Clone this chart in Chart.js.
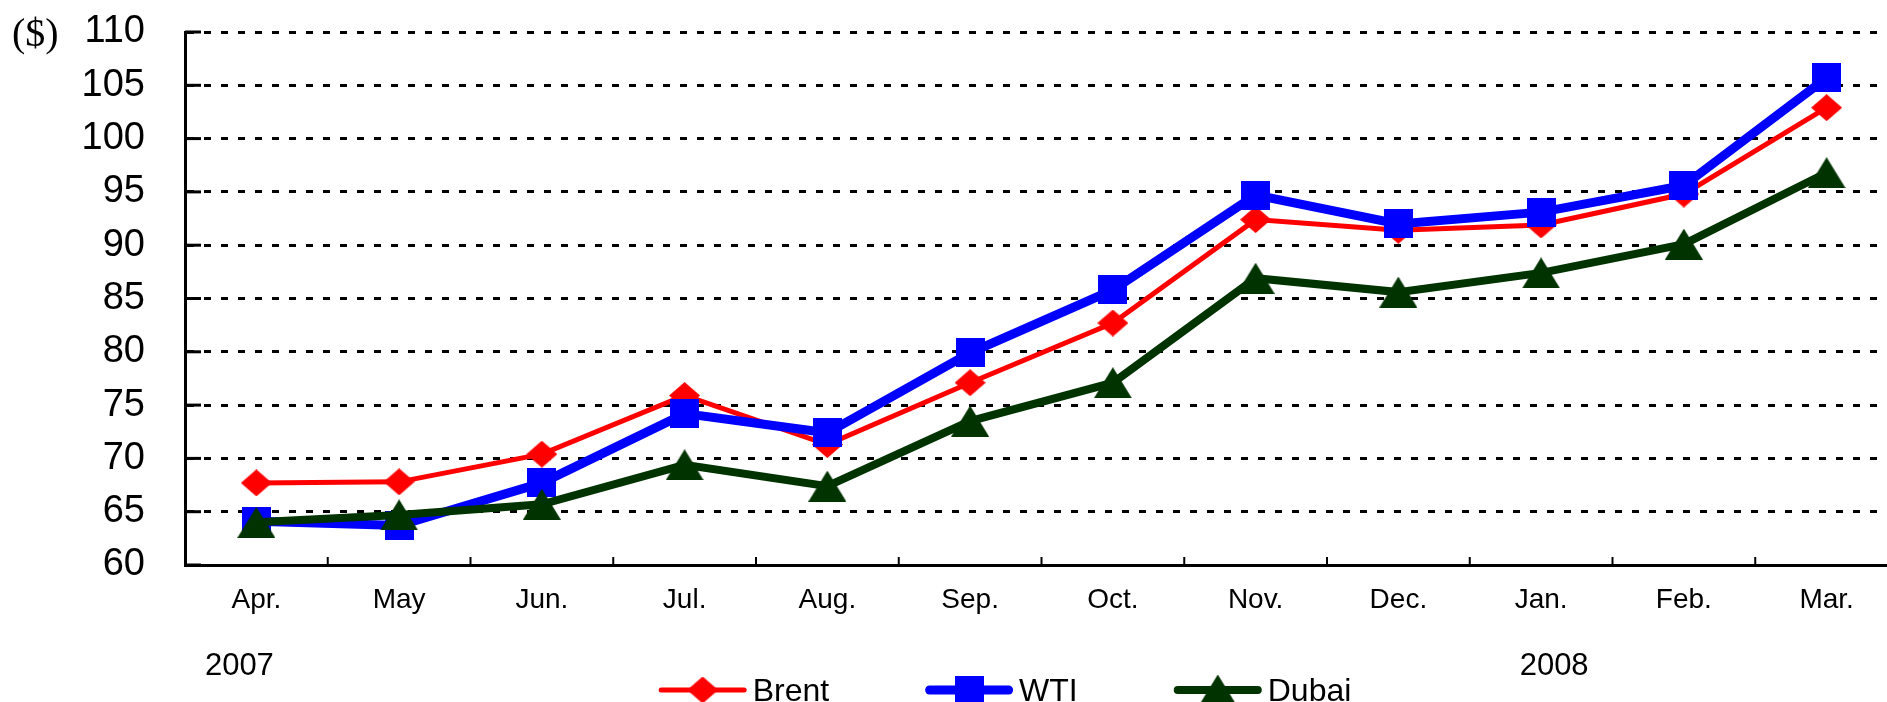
<!DOCTYPE html>
<html>
<head>
<meta charset="utf-8">
<script src="https://cdn.jsdelivr.net/npm/chart.js@4/dist/chart.umd.min.js"></script>
<style>
    html, body { margin: 0; padding: 0; background: #fff; overflow: hidden; }
    #wrap { width: 1898px; height: 702px; }
</style>
</head>
<body>
<div id="wrap"><canvas id="oilChart"></canvas></div>
<script>
// monthly crude prices, Apr. 2007 - Mar. 2008 ($/bbl)
const months = ['Apr.', 'May', 'Jun.', 'Jul.', 'Aug.', 'Sep.', 'Oct.', 'Nov.', 'Dec.', 'Jan.', 'Feb.', 'Mar.'];
const brent = [67.7, 67.8, 70.4, 75.9, 71.3, 77.1, 82.7, 92.4, 91.4, 91.9, 94.8, 102.9];
const wti = [64.1, 63.7, 67.7, 74.2, 72.4, 79.9, 85.8, 94.7, 92.0, 93.1, 95.6, 105.7];
const dubai = [64.0, 64.7, 65.7, 69.4, 67.4, 73.5, 77.1, 86.9, 85.6, 87.4, 90.1, 96.8];
const yearLabels = ['2007', '2008'];
const yearMonthIndex = [0, 9];
const yMin = 60, yMax = 110, yStep = 5;

Chart.defaults.font.family = "'Liberation Sans', Arial, sans-serif";
Chart.defaults.color = '#000';

function makeMarker(shape, w, h, color) {
    const c = document.createElement('canvas');
    c.width = w;
    c.height = h;
    const g = c.getContext('2d');
    g.fillStyle = color;
    g.beginPath();
    if (shape === 'diamond') {
        g.moveTo(w / 2, 0); g.lineTo(w, h / 2); g.lineTo(w / 2, h); g.lineTo(0, h / 2);
    } else if (shape === 'square') {
        g.rect(0, 0, w, h);
    } else {
        g.moveTo(w / 2, 0); g.lineTo(w, h); g.lineTo(0, h);
    }
    g.closePath();
    g.fill();
    return c;
}

// inward tick marks on both axes (Excel style)
const axisTicks = {
    id: 'axisTicks',
    beforeDatasetsDraw(chart) {
        const {ctx, chartArea, scales: {x, y}} = chart;
        ctx.save();
        ctx.strokeStyle = '#000';
        ctx.lineWidth = 3;
        y.ticks.forEach(t => {
            const py = y.getPixelForValue(t.value);
            ctx.beginPath();
            ctx.moveTo(chartArea.left, py);
            ctx.lineTo(chartArea.left + 16, py);
            ctx.stroke();
        });
        ctx.lineWidth = 2;
        const step = x.getPixelForValue(1) - x.getPixelForValue(0);
        for (let i = 0; i < months.length - 1; i++) {
            const px = x.getPixelForValue(i) + step / 2;
            ctx.beginPath();
            ctx.moveTo(px, chartArea.bottom);
            ctx.lineTo(px, chartArea.bottom - 8);
            ctx.stroke();
        }
        ctx.restore();
    }
};

// unit label, year labels and the line+marker legend
const extras = {
    id: 'extras',
    afterDraw(chart) {
        const {ctx, scales: {x, y}} = chart;
        ctx.save();
        ctx.fillStyle = '#000';
        ctx.textBaseline = 'alphabetic';

        ctx.font = "40px 'Liberation Serif', 'Times New Roman', serif";
        ctx.textAlign = 'left';
        ctx.fillText('($)', 12, y.getPixelForValue(yMax) + 14);

        ctx.font = "31px 'Liberation Sans', Arial, sans-serif";
        ctx.textAlign = 'center';
        const yearShift = [-17, 13];
        yearLabels.forEach((lbl, i) => {
            ctx.fillText(lbl, x.getPixelForValue(yearMonthIndex[i]) + yearShift[i], 675);
        });

        ctx.font = "32px 'Liberation Sans', Arial, sans-serif";
        ctx.textAlign = 'left';
        const lineLen = 88, textGap = 6, itemGap = 96, ly = 690;
        const items = chart.data.datasets.map(ds => ({
            ds, tw: ctx.measureText(ds.label).width
        }));
        const total = items.reduce((s, it) => s + lineLen + textGap + it.tw, 0) + itemGap * (items.length - 1);
        let lx = 1005 - total / 2;
        items.forEach(({ds, tw}) => {
            ctx.strokeStyle = ds.borderColor;
            ctx.lineWidth = ds.borderWidth;
            ctx.lineCap = 'round';
            ctx.beginPath();
            ctx.moveTo(lx + ds.borderWidth / 2, ly);
            ctx.lineTo(lx + lineLen - ds.borderWidth / 2, ly);
            ctx.stroke();
            const m = ds.pointStyle;
            ctx.drawImage(m, lx + lineLen / 2 - m.width / 2, ly - m.height / 2);
            ctx.fillText(ds.label, lx + lineLen + textGap, 701);
            lx += lineLen + textGap + tw + itemGap;
        });
        ctx.restore();
    }
};

const ctx = document.getElementById('oilChart').getContext('2d');
new Chart(ctx, {
    type: 'line',
    data: {
        labels: months,
        datasets: [
            {
                label: 'Brent',
                data: brent,
                borderColor: '#ff0000',
                backgroundColor: '#ff0000',
                borderWidth: 5,
                pointStyle: makeMarker('diamond', 31, 27, '#ff0000'),
                pointRadius: 10,
                tension: 0,
                order: 2
            },
            {
                label: 'WTI',
                data: wti,
                borderColor: '#0000ff',
                backgroundColor: '#0000ff',
                borderWidth: 9,
                pointStyle: makeMarker('square', 29, 29, '#0000ff'),
                pointRadius: 10,
                tension: 0,
                order: 1
            },
            {
                label: 'Dubai',
                data: dubai,
                borderColor: '#003300',
                backgroundColor: '#003300',
                borderWidth: 8,
                pointStyle: makeMarker('triangle', 38, 31, '#003300'),
                pointRadius: 10,
                tension: 0,
                order: 0
            }
        ]
    },
    options: {
        responsive: true,
        maintainAspectRatio: false,
        animation: false,
        devicePixelRatio: 1,
        layout: { autoPadding: false, padding: { top: 32, right: 0, bottom: 0, left: 0 } },
        plugins: {
            legend: { display: false },
            tooltip: { enabled: false }
        },
        scales: {
            x: {
                offset: true,
                grid: { display: false, drawTicks: false },
                border: { display: true, color: '#000', width: 3 },
                ticks: {
                    font: { size: 28 },
                    color: '#000',
                    padding: 18,
                    maxRotation: 0,
                    autoSkip: false
                },
                afterFit: scale => { scale.height = 137; }
            },
            y: {
                min: yMin,
                max: yMax,
                grid: { color: '#000', lineWidth: 3, drawTicks: false },
                border: { display: true, color: '#000', width: 3, dash: [7, 10] },
                ticks: {
                    stepSize: yStep,
                    font: { size: 38 },
                    color: '#000',
                    padding: 40
                },
                afterFit: scale => {
                    scale.width = 185;
                    scale.paddingTop = 0;
                    scale.paddingBottom = 0;
                }
            }
        }
    },
    plugins: [axisTicks, extras]
});
</script>
</body>
</html>
